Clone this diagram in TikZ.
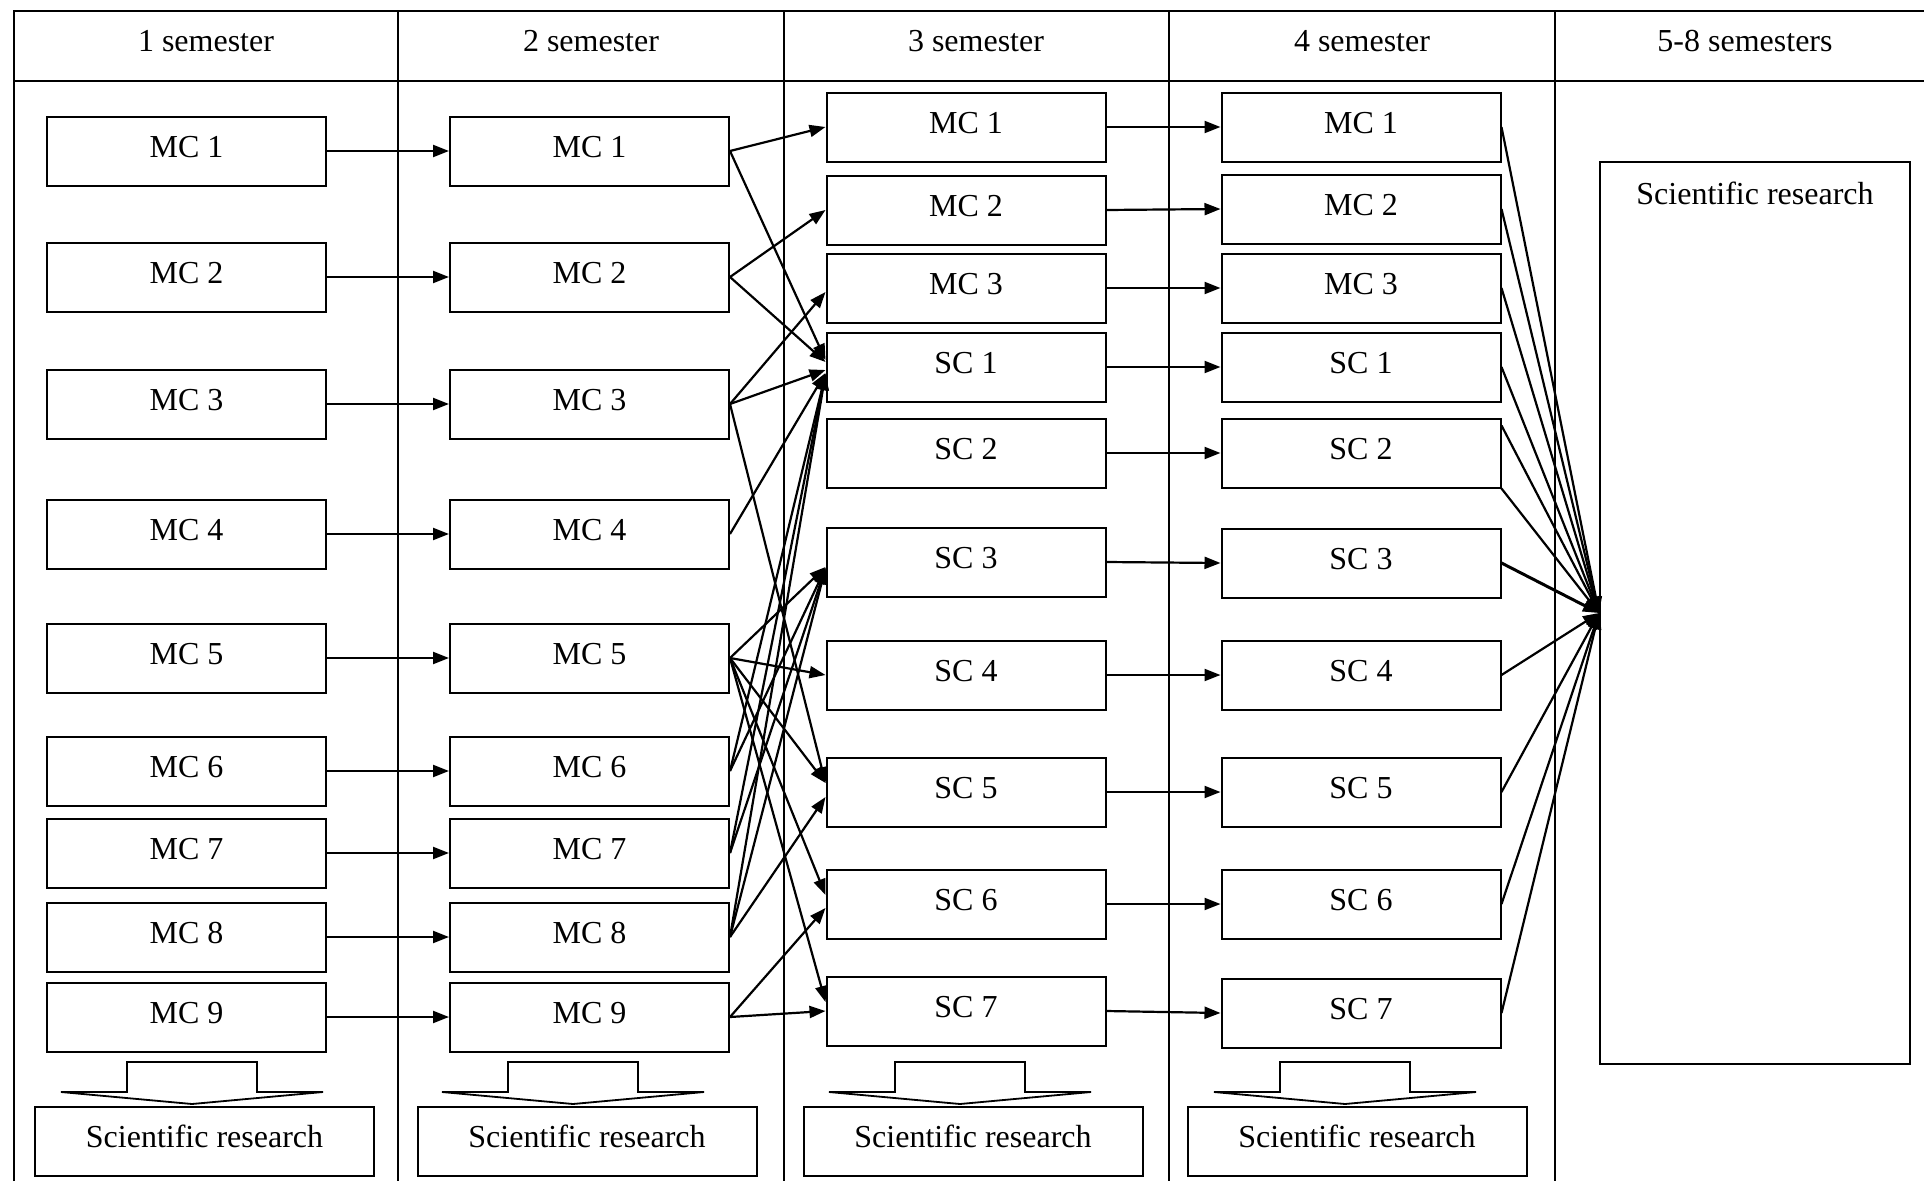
\documentclass[tikz,border=0pt]{standalone}
\usepackage{fontspec}
\setmainfont{Liberation Serif}
\usetikzlibrary{arrows.meta,calc}
\begin{document}
\begin{tikzpicture}[x=1pt,y=-1pt,
  box/.style={draw,line width=2pt,minimum width=279pt,minimum height=69pt,inner sep=0pt,text height=21pt,text depth=8pt,font=\fontsize{32}{38}\selectfont},
  srbox/.style={box,minimum width=339pt},
  arr/.style={line width=2.2pt,-{Triangle[length=16pt,width=12pt]}},
  fan/.style={line width=2.2pt,-{Triangle[length=16pt,width=12pt]}},
  gridline/.style={line width=2pt},
  txt/.style={font=\fontsize{32}{38}\selectfont},
  blk/.style={line width=1.8pt,line join=miter}]
\useasboundingbox (0,0) rectangle (1924,1181);
% table
\draw[gridline] (14,1181) -- (14,11) -- (1924,11);
\draw[gridline] (14,81) -- (1924,81);
\foreach \x in {398,784,1169,1555} \draw[gridline] (\x,11) -- (\x,1181);
% headers
\node[txt] (h1) at (206,41.5) {1 semester};
\node[txt] (h2) at (591,41.5) {2 semester};
\node[txt] (h3) at (976,41.5) {3 semester};
\node[txt] (h4) at (1362,41.5) {4 semester};
\node[txt] (h5) at (1745,41.5) {5-8 semesters};
% columns 1 and 2
\foreach \i/\y in {1/151,2/277,3/404,4/534,5/658,6/771,7/853,8/937,9/1017} {
  \node[box] (a\i) at (186.5,\y) {MC \i};
  \node[box] (b\i) at (589.5,\y) {MC \i};
  \draw[arr] (a\i.east) -- (b\i.west);
}
% columns 3 and 4
\foreach \i/\lab/\y/\yd in {1/MC 1/127/127,2/MC 2/210/209,3/MC 3/288/288,4/SC 1/367/367,5/SC 2/453/453,6/SC 3/562/563,7/SC 4/675/675,8/SC 5/792/792,9/SC 6/904/904,10/SC 7/1011/1013} {
  \node[box] (c\i) at (966,\y) {\lab};
  \node[box] (d\i) at (1361,\yd) {\lab};
  \draw[arr] (c\i.east) -- (d\i.west);
}
% column 2 -> column 3
\draw[arr] (b1.east) -- (c1.west);
\draw[arr] (b1.east) -- ($(c4.west)+(0,-7)$);
\draw[arr] (b2.east) -- (c2.west);
\draw[arr] (b2.east) -- ($(c4.west)+(0,-5)$);
\draw[arr] (b3.east) -- ($(c3.west)+(0,4)$);
\draw[arr] (b3.east) -- ($(c4.west)+(0,3)$);
\draw[arr] (b3.east) -- ($(c8.west)+(0,-9)$);
\draw[arr] (b4.east) -- ($(c4.west)+(0,6)$);
\draw[arr] (b5.east) -- ($(c6.west)+(0,5)$);
\draw[arr] (b5.east) -- (c7.west);
\draw[arr] (b5.east) -- ($(c8.west)+(0,-9)$);
\draw[arr] (b5.east) -- ($(c9.west)+(0,-9)$);
\draw[arr] (b5.east) -- ($(c10.west)+(0,-9)$);
\draw[arr] (b6.east) -- ($(c4.west)+(0,7)$);
\draw[arr] (b6.east) -- ($(c6.west)+(0,6)$);
\draw[arr] (b7.east) -- ($(c4.west)+(0,7)$);
\draw[arr] (b7.east) -- ($(c6.west)+(0,6)$);
\draw[arr] (b8.east) -- ($(c4.west)+(0,7)$);
\draw[arr] (b8.east) -- ($(c6.west)+(0,6)$);
\draw[arr] (b8.east) -- ($(c8.west)+(0,5)$);
\draw[arr] (b9.east) -- ($(c9.west)+(0,4)$);
\draw[arr] (b9.east) -- (c10.west);
% column 5
\node[draw,line width=2pt,minimum width=310pt,minimum height=902pt,inner sep=0pt] (R) at (1755,613) {};
\node[txt] (Rt) at ($(R.north)+(0,32)$) {Scientific research};
% column 4 -> column 5
\foreach \i in {1,2,3,4,7,8,9,10} \draw[fan] (d\i.east) -- (R.west);
\draw[fan] ($(d5.north east)+(0,8)$) -- (R.west);
\draw[fan] (d5.south east) -- (R.west);
\draw[fan,line width=3pt] (d6.east) -- (R.west);
% block arrows and bottom boxes
\foreach \c in {192,573,960,1345}
  \draw[blk] (\c-131,1092) -- (\c-65,1092) -- (\c-65,1062) -- (\c+65,1062) -- (\c+65,1092) -- (\c+131,1092) -- (\c,1104) -- cycle;
\node[srbox] (s1) at (204.5,1141) {Scientific research};
\node[srbox] (s2) at (587,1141) {Scientific research};
\node[srbox] (s3) at (973,1141) {Scientific research};
\node[srbox] (s4) at (1357,1141) {Scientific research};
\end{tikzpicture}
\end{document}
